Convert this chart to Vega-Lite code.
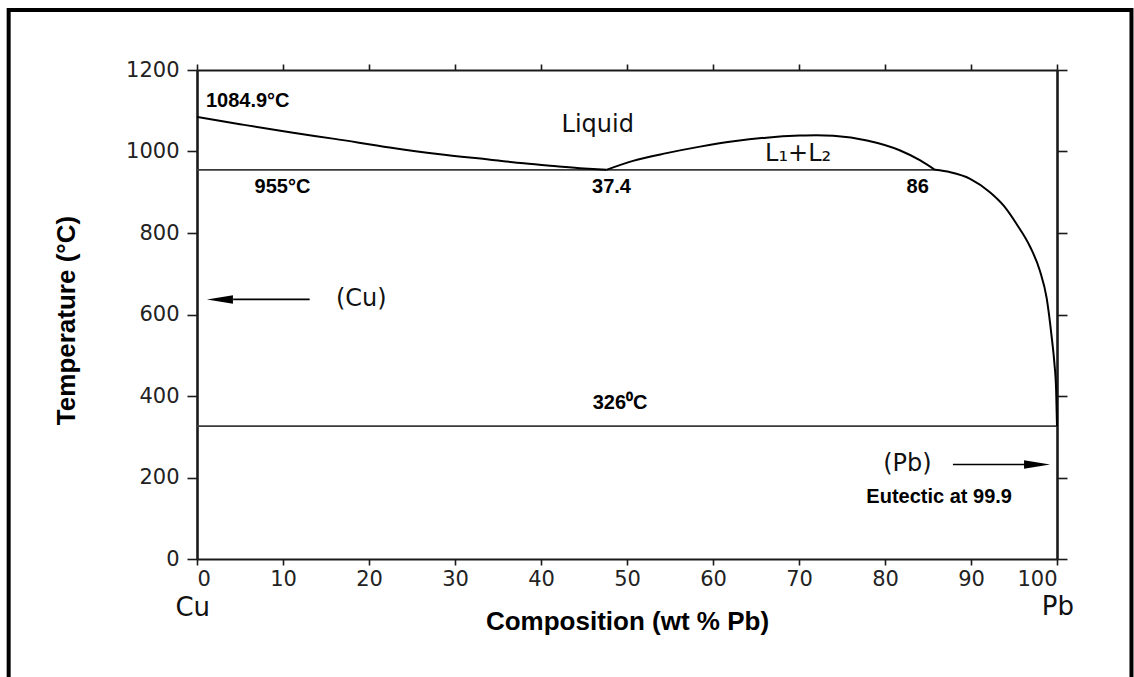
{
  "$schema": "https://vega.github.io/schema/vega-lite/v6.json",
  "width": 860,
  "height": 489,
  "autosize": {"type": "none"},
  "padding": {"left": 197, "top": 70, "right": 77, "bottom": 118},
  "background": "white",
  "config": {
    "view": {"stroke": null},
    "axis": {
      "grid": false,
      "domainColor": "#1a1a1a",
      "tickColor": "#1a1a1a",
      "tickWidth": 1.6,
      "labelFont": "DejaVu Sans",
      "labelFontSize": 21,
      "labelColor": "#222222",
      "titleFont": "Liberation Sans",
      "titleFontWeight": "bold",
      "titleFontSize": 26,
      "titleColor": "#000000"
    }
  },
  "datasets": {
    "frame": [{"x0": -21.9, "x1": 108.66, "t0": 1347, "t1": -400}],
    "rules": [
      {"x": 0, "x2": 85.8, "t": 955},
      {"x": 0, "x2": 100, "t": 326}
    ],
    "curve": [
      {"seg": "liqL", "x": 0, "t": 1085},
      {"seg": "liqL", "x": 5, "t": 1067},
      {"seg": "liqL", "x": 10.8, "t": 1047},
      {"seg": "liqL", "x": 16, "t": 1031},
      {"seg": "liqL", "x": 22.4, "t": 1010},
      {"seg": "liqL", "x": 28, "t": 994},
      {"seg": "liqL", "x": 34.1, "t": 980},
      {"seg": "liqL", "x": 38, "t": 971},
      {"seg": "liqL", "x": 41.8, "t": 964},
      {"seg": "liqL", "x": 45, "t": 958.5},
      {"seg": "liqL", "x": 47.6, "t": 955},
      {"seg": "dome", "x": 47.6, "t": 955},
      {"seg": "dome", "x": 50.7, "t": 977},
      {"seg": "dome", "x": 54.6, "t": 996},
      {"seg": "dome", "x": 58.5, "t": 1012},
      {"seg": "dome", "x": 62.4, "t": 1025},
      {"seg": "dome", "x": 66.2, "t": 1034},
      {"seg": "dome", "x": 70.1, "t": 1039},
      {"seg": "dome", "x": 72, "t": 1040},
      {"seg": "dome", "x": 74, "t": 1038.5},
      {"seg": "dome", "x": 77.9, "t": 1027},
      {"seg": "dome", "x": 81.7, "t": 1003},
      {"seg": "dome", "x": 84.1, "t": 978},
      {"seg": "dome", "x": 85.8, "t": 955},
      {"seg": "liqR", "x": 85.8, "t": 955},
      {"seg": "liqR", "x": 87.6, "t": 949},
      {"seg": "liqR", "x": 89.9, "t": 933},
      {"seg": "liqR", "x": 92.2, "t": 900},
      {"seg": "liqR", "x": 93.8, "t": 867},
      {"seg": "liqR", "x": 95.3, "t": 822},
      {"seg": "liqR", "x": 96.9, "t": 765},
      {"seg": "liqR", "x": 98.0, "t": 708},
      {"seg": "liqR", "x": 98.8, "t": 640},
      {"seg": "liqR", "x": 99.38, "t": 545},
      {"seg": "liqR", "x": 99.7, "t": 480},
      {"seg": "liqR", "x": 99.9, "t": 414},
      {"seg": "liqR", "x": 100, "t": 326}
    ],
    "arrows": [
      {"x": 4.2, "x2": 13.1, "t": 637},
      {"x": 87.9, "x2": 97, "t": 232}
    ],
    "heads": [
      {"x": 2.67, "t": 637, "dir": "L"},
      {"x": 97.68, "t": 232, "dir": "R"}
    ],
    "boldLabels": [
      {"x": 5.9, "t": 1123, "text": "1084.9°C"},
      {"x": 9.94, "t": 914, "text": "955°C"},
      {"x": 48.2, "t": 912, "text": "37.4"},
      {"x": 83.8, "t": 914, "text": "86"},
      {"x": 49.2, "t": 384, "text": "326⁰C"},
      {"x": 86.3, "t": 151, "text": "Eutectic at 99.9"}
    ],
    "regLabels": [
      {"x": 46.6, "t": 1064, "text": "Liquid"},
      {"x": 69.9, "t": 993, "text": "L₁+L₂"},
      {"x": 19.1, "t": 637, "text": "(Cu)"},
      {"x": 82.6, "t": 232, "text": "(Pb)"}
    ],
    "elements": [
      {"x": -0.5, "t": -120, "text": "Cu"},
      {"x": 100.1, "t": -119, "text": "Pb"}
    ]
  },
  "resolve": {"axis": {"x": "independent", "y": "independent"}},
  "layer": [
    {
      "data": {"name": "frame"},
      "mark": {"type": "rect", "fillOpacity": 0, "stroke": "#000000", "strokeWidth": 4},
      "encoding": {
        "x": {"field": "x0", "type": "quantitative", "scale": {"domain": [0, 100], "nice": false, "zero": false}, "axis": null},
        "x2": {"field": "x1"},
        "y": {"field": "t0", "type": "quantitative", "scale": {"domain": [0, 1200], "nice": false, "zero": false}, "axis": null},
        "y2": {"field": "t1"}
      }
    },
    {
      "data": {"name": "rules"},
      "mark": {"type": "rule", "color": "#3a3a3a", "strokeWidth": 1.6},
      "encoding": {
        "x": {
          "field": "x", "type": "quantitative",
          "scale": {"domain": [0, 100], "nice": false, "zero": false},
          "axis": {
            "orient": "bottom",
            "values": [0, 10, 20, 30, 40, 50, 60, 70, 80, 90, 100],
            "format": "d",
            "tickSize": 6,
            "labelPadding": 3,
            "domainWidth": 2,
            "title": "Composition (wt % Pb)",
            "titleY": 62,
            "titleBaseline": "middle"
          }
        },
        "x2": {"field": "x2"},
        "y": {
          "field": "t", "type": "quantitative",
          "scale": {"domain": [0, 1200], "nice": false, "zero": false},
          "axis": {
            "orient": "left",
            "values": [0, 200, 400, 600, 800, 1000, 1200],
            "format": "d",
            "tickSize": 10,
            "labelPadding": 8,
            "domainWidth": 2.6,
            "title": "Temperature (°C)",
            "titleX": -131,
            "titleY": 250,
            "titleBaseline": "middle"
          }
        }
      }
    },
    {
      "data": {"name": "curve"},
      "mark": {"type": "line", "color": "#000000", "strokeWidth": 2, "interpolate": "monotone"},
      "encoding": {
        "x": {
          "field": "x", "type": "quantitative",
          "scale": {"domain": [0, 100], "nice": false, "zero": false},
          "axis": {"orient": "top", "values": [0, 10, 20, 30, 40, 50, 60, 70, 80, 90, 100], "labels": false, "tickSize": 6, "domainWidth": 2, "title": null}
        },
        "y": {
          "field": "t", "type": "quantitative",
          "scale": {"domain": [0, 1200], "nice": false, "zero": false},
          "axis": {"orient": "right", "values": [0, 200, 400, 600, 800, 1000, 1200], "labels": false, "tickSize": 10, "domainWidth": 2.6, "title": null}
        },
        "detail": {"field": "seg", "type": "nominal"},
        "order": {"field": "x", "type": "quantitative"}
      }
    },
    {
      "data": {"name": "arrows"},
      "mark": {"type": "rule", "color": "#000000", "strokeWidth": 1.6},
      "encoding": {
        "x": {"field": "x", "type": "quantitative", "scale": {"domain": [0, 100], "nice": false, "zero": false}, "axis": null},
        "x2": {"field": "x2"},
        "y": {"field": "t", "type": "quantitative", "scale": {"domain": [0, 1200], "nice": false, "zero": false}, "axis": null}
      }
    },
    {
      "data": {"name": "heads"},
      "mark": {"type": "point", "filled": true, "color": "#000000", "opacity": 1, "size": 676, "strokeWidth": 0},
      "encoding": {
        "x": {"field": "x", "type": "quantitative", "scale": {"domain": [0, 100], "nice": false, "zero": false}, "axis": null},
        "y": {"field": "t", "type": "quantitative", "scale": {"domain": [0, 1200], "nice": false, "zero": false}, "axis": null},
        "shape": {
          "field": "dir", "type": "nominal",
          "scale": {"domain": ["L", "R"], "range": ["M-1,0L1,-0.33L1,0.33Z", "M1,0L-1,-0.33L-1,0.33Z"]},
          "legend": null
        }
      }
    },
    {
      "data": {"name": "boldLabels"},
      "mark": {"type": "text", "font": "Liberation Sans", "fontWeight": "bold", "fontSize": 20, "color": "#000000", "align": "center", "baseline": "middle"},
      "encoding": {
        "x": {"field": "x", "type": "quantitative", "scale": {"domain": [0, 100], "nice": false, "zero": false}, "axis": null},
        "y": {"field": "t", "type": "quantitative", "scale": {"domain": [0, 1200], "nice": false, "zero": false}, "axis": null},
        "text": {"field": "text", "type": "nominal"}
      }
    },
    {
      "data": {"name": "regLabels"},
      "mark": {"type": "text", "font": "DejaVu Sans", "fontSize": 24, "color": "#111111", "align": "center", "baseline": "middle"},
      "encoding": {
        "x": {"field": "x", "type": "quantitative", "scale": {"domain": [0, 100], "nice": false, "zero": false}, "axis": null},
        "y": {"field": "t", "type": "quantitative", "scale": {"domain": [0, 1200], "nice": false, "zero": false}, "axis": null},
        "text": {"field": "text", "type": "nominal"}
      }
    },
    {
      "data": {"name": "elements"},
      "mark": {"type": "text", "font": "DejaVu Sans", "fontSize": 26, "color": "#111111", "align": "center", "baseline": "middle"},
      "encoding": {
        "x": {"field": "x", "type": "quantitative", "scale": {"domain": [0, 100], "nice": false, "zero": false}, "axis": null},
        "y": {"field": "t", "type": "quantitative", "scale": {"domain": [0, 1200], "nice": false, "zero": false}, "axis": null},
        "text": {"field": "text", "type": "nominal"}
      }
    }
  ]
}
